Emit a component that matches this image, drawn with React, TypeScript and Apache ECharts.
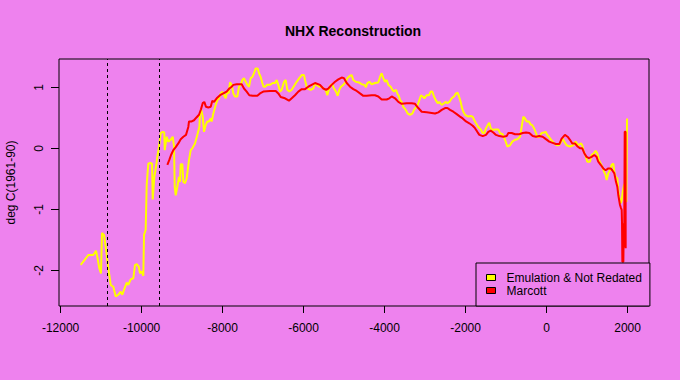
import React, { useEffect, useRef } from "react";
import * as echarts from "echarts";

const xTicks = [-12000, -10000, -8000, -6000, -4000, -2000, 0, 2000];
const yTicks = [-2, -1, 0, 1];
const dashedYears = [-10850, -9560];
const seriesNames = ["Emulation & Not Redated", "Marcott"];

const emulation: [number, number][] = [
  [-11504, -1.91], [-11316, -1.75], [-11193, -1.75], [-11126, -1.68], [-11094, -1.78], [-11044, -1.97],
  [-11003, -2.05], [-10978, -1.39], [-10928, -1.42], [-10887, -1.61], [-10837, -1.89], [-10797, -2.08],
  [-10764, -2.24], [-10698, -2.27], [-10640, -2.43], [-10575, -2.4], [-10517, -2.35], [-10476, -2.4],
  [-10435, -2.32], [-10368, -2.2], [-10328, -2.24], [-10270, -2.15], [-10204, -2.13], [-10163, -1.91],
  [-10121, -1.9], [-10072, -1.94], [-10039, -2.05], [-9998, -2.02], [-9958, -2.09], [-9941, -1.42],
  [-9900, -1.34], [-9875, -0.6], [-9835, -0.25], [-9776, -0.24], [-9743, -0.25], [-9726, -0.84],
  [-9686, -0.47], [-9644, -0.3], [-9612, -0.14], [-9570, 0.03], [-9529, 0.25], [-9479, 0.27],
  [-9440, 0.26], [-9430, -0.03], [-9381, 0.19], [-9341, 0.11], [-9282, 0.14], [-9232, 0.19],
  [-9200, 0.03], [-9183, -0.63], [-9158, -0.77], [-9118, -0.63], [-9077, -0.47], [-9052, -0.55],
  [-9035, -0.26], [-8995, -0.26], [-8970, -0.55], [-8928, -0.57], [-8887, -0.49], [-8862, -0.36],
  [-8830, -0.19], [-8788, -0.03], [-8748, 0.0], [-8682, 0.08], [-8625, 0.22], [-8575, 0.35],
  [-8558, 0.57], [-8526, 0.63], [-8492, 0.52], [-8459, 0.27], [-8418, 0.38], [-8378, 0.44],
  [-8336, 0.44], [-8294, 0.49], [-8270, 0.44], [-8229, 0.57], [-8171, 0.71], [-8131, 0.79],
  [-8089, 0.82], [-8047, 0.9], [-8008, 0.93], [-7966, 0.87], [-7924, 0.82], [-7885, 0.93],
  [-7850, 0.9], [-7818, 1.08], [-7775, 1.04], [-7735, 0.9], [-7694, 0.85], [-7637, 0.85],
  [-7595, 1.01], [-7553, 1.04], [-7514, 1.12], [-7472, 1.15], [-7430, 1.09], [-7390, 1.04],
  [-7348, 1.01], [-7307, 1.15], [-7266, 1.17], [-7225, 1.23], [-7183, 1.31], [-7134, 1.31],
  [-7102, 1.23], [-7060, 1.17], [-7020, 1.07], [-6990, 1.01], [-6953, 1.01], [-6900, 1.04],
  [-6830, 1.04], [-6763, 1.07], [-6706, 1.07], [-6665, 1.12], [-6625, 1.04], [-6583, 0.93],
  [-6541, 0.96], [-6484, 1.09], [-6443, 1.12], [-6403, 0.96], [-6353, 0.93], [-6294, 0.96],
  [-6237, 1.02], [-6171, 1.09], [-6106, 1.15], [-6047, 1.2], [-5990, 1.2], [-5966, 1.12],
  [-5924, 1.01], [-5884, 0.97], [-5825, 0.96], [-5760, 0.98], [-5719, 1.07], [-5680, 1.04],
  [-5612, 1.01], [-5554, 1.01], [-5514, 0.98], [-5455, 0.96], [-5415, 0.87], [-5373, 0.97],
  [-5332, 1.04], [-5291, 1.05], [-5250, 0.98], [-5200, 0.93], [-5159, 0.86], [-5118, 0.96],
  [-5077, 1.01], [-5020, 1.04], [-4960, 1.09], [-4921, 1.15], [-4855, 1.19], [-4813, 1.2],
  [-4773, 1.12], [-4714, 1.09], [-4632, 1.08], [-4567, 1.05], [-4501, 1.04], [-4460, 1.0],
  [-4427, 1.07], [-4378, 1.09], [-4320, 1.05], [-4238, 1.07], [-4156, 1.08], [-4114, 1.17],
  [-4073, 1.23], [-4032, 1.15], [-3991, 1.09], [-3949, 1.12], [-3908, 1.04], [-3850, 1.01],
  [-3809, 0.96], [-3768, 0.93], [-3718, 0.96], [-3686, 0.9], [-3644, 0.85], [-3620, 0.79],
  [-3578, 0.76], [-3538, 0.68], [-3479, 0.63], [-3430, 0.57], [-3373, 0.55], [-3316, 0.57],
  [-3274, 0.63], [-3225, 0.67], [-3183, 0.71], [-3143, 0.79], [-3101, 0.87], [-3060, 0.85],
  [-3020, 0.82], [-2961, 0.87], [-2904, 0.87], [-2862, 0.93], [-2822, 0.93], [-2780, 0.85],
  [-2738, 0.79], [-2689, 0.74], [-2649, 0.76], [-2590, 0.71], [-2533, 0.74], [-2484, 0.76],
  [-2451, 0.74], [-2402, 0.76], [-2343, 0.82], [-2286, 0.85], [-2237, 0.9], [-2195, 0.91],
  [-2163, 0.85], [-2121, 0.76], [-2097, 0.68], [-2056, 0.6], [-2015, 0.55], [-1933, 0.52],
  [-1875, 0.53], [-1825, 0.52], [-1785, 0.46], [-1743, 0.41], [-1686, 0.35], [-1627, 0.31],
  [-1578, 0.25], [-1538, 0.25], [-1497, 0.33], [-1455, 0.38], [-1415, 0.42], [-1380, 0.33],
  [-1340, 0.3], [-1274, 0.31], [-1192, 0.31], [-1151, 0.25], [-1085, 0.23], [-1027, 0.14],
  [-970, 0.03], [-904, 0.05], [-847, 0.11], [-781, 0.14], [-723, 0.15], [-657, 0.19],
  [-616, 0.35], [-575, 0.52], [-534, 0.49], [-492, 0.44], [-435, 0.44], [-393, 0.39],
  [-353, 0.38], [-311, 0.33], [-262, 0.25], [-221, 0.18], [-182, 0.19], [-123, 0.25],
  [-66, 0.26], [-24, 0.27], [16, 0.22], [57, 0.19], [99, 0.15], [149, 0.11],
  [206, 0.07], [247, 0.05], [304, 0.05], [354, 0.1], [395, 0.16], [436, 0.11],
  [493, 0.05], [576, 0.03], [658, 0.05], [716, 0.11], [781, 0.05], [849, 0.08],
  [880, 0.05], [922, -0.06], [971, -0.14], [1004, -0.22], [1070, -0.22], [1111, -0.11],
  [1168, -0.08], [1210, -0.04], [1251, -0.08], [1292, -0.19], [1334, -0.25], [1374, -0.3],
  [1416, -0.38], [1457, -0.44], [1482, -0.52], [1523, -0.41], [1565, -0.36], [1606, -0.27],
  [1647, -0.25], [1672, -0.38], [1706, -0.47], [1746, -0.49], [1771, -0.68], [1796, -0.82],
  [1830, -0.9], [1854, -0.85], [1879, -0.71], [1912, -0.6], [1953, -0.57], [1968, -0.88],
  [1986, 0.49],
];

const marcott: [number, number][] = [
  [-9365, -0.27], [-9316, -0.19], [-9274, -0.11], [-9217, -0.03], [-9158, 0.02], [-9094, 0.08],
  [-9035, 0.15], [-8970, 0.19], [-8904, 0.22], [-8847, 0.35], [-8830, 0.44], [-8764, 0.44],
  [-8707, 0.46], [-8640, 0.51], [-8583, 0.55], [-8534, 0.64], [-8492, 0.74], [-8452, 0.76],
  [-8410, 0.68], [-8353, 0.67], [-8294, 0.68], [-8254, 0.78], [-8212, 0.76], [-8146, 0.82],
  [-8064, 0.87], [-7983, 0.9], [-7900, 0.93], [-7835, 0.98], [-7775, 1.01], [-7735, 1.04],
  [-7652, 1.05], [-7529, 1.05], [-7472, 0.98], [-7406, 0.93], [-7341, 0.87], [-7258, 0.86],
  [-7143, 0.86], [-7077, 0.9], [-6995, 0.93], [-6830, 0.94], [-6689, 0.94], [-6625, 0.9],
  [-6566, 0.84], [-6460, 0.82], [-6361, 0.78], [-6294, 0.82], [-6213, 0.87], [-6131, 0.93],
  [-6047, 0.97], [-5966, 0.97], [-5884, 1.01], [-5802, 1.04], [-5719, 1.07], [-5596, 1.04],
  [-5514, 0.98], [-5447, 0.96], [-5390, 0.98], [-5307, 1.04], [-5225, 1.09], [-5143, 1.13],
  [-5060, 1.16], [-5003, 1.15], [-4936, 1.07], [-4855, 1.01], [-4773, 0.97], [-4689, 0.94],
  [-4608, 0.9], [-4526, 0.86], [-4443, 0.86], [-4320, 0.87], [-4238, 0.87], [-4156, 0.85],
  [-4073, 0.8], [-3949, 0.8], [-3884, 0.82], [-3825, 0.85], [-3743, 0.82], [-3661, 0.76],
  [-3578, 0.73], [-3454, 0.74], [-3331, 0.74], [-3250, 0.73], [-3168, 0.66], [-3084, 0.6],
  [-2961, 0.59], [-2838, 0.58], [-2755, 0.57], [-2673, 0.59], [-2590, 0.63], [-2508, 0.66],
  [-2450, 0.66], [-2385, 0.63], [-2303, 0.6], [-2220, 0.56], [-2138, 0.52], [-2072, 0.49],
  [-1990, 0.44], [-1909, 0.41], [-1825, 0.37], [-1768, 0.33], [-1711, 0.27], [-1661, 0.22],
  [-1578, 0.2], [-1497, 0.22], [-1440, 0.27], [-1380, 0.29], [-1316, 0.26], [-1250, 0.22],
  [-1168, 0.2], [-1069, 0.19], [-986, 0.2], [-945, 0.25], [-863, 0.25], [-781, 0.23],
  [-675, 0.23], [-591, 0.25], [-509, 0.26], [-427, 0.25], [-344, 0.2], [-262, 0.19],
  [-182, 0.2], [-98, 0.19], [-17, 0.15], [65, 0.11], [149, 0.09], [231, 0.07],
  [313, 0.07], [371, 0.16], [452, 0.22], [518, 0.19], [576, 0.14], [634, 0.08],
  [699, 0.08], [765, 0.03], [822, 0.0], [880, 0.0], [930, -0.08], [987, -0.14],
  [1045, -0.16], [1111, -0.14], [1176, -0.11], [1234, -0.14], [1275, -0.22], [1334, -0.27],
  [1399, -0.33], [1457, -0.36], [1523, -0.33], [1580, -0.33], [1621, -0.36], [1672, -0.41],
  [1713, -0.55], [1746, -0.63], [1771, -0.77], [1812, -0.93], [1837, -0.98], [1854, -1.01],
  [1862, -1.23], [1870, -1.86], [1895, -1.86], [1905, -1.23], [1915, -1.62], [1928, 0.27],
  [1950, 0.27], [1952, -1.64],
];

const FONT = "'Liberation Sans', Arial, sans-serif";

export default function App() {
  const ref = useRef<HTMLDivElement>(null);
  useEffect(() => {
    const chart = echarts.init(ref.current!, null, { renderer: "svg" });
    chart.setOption({
      animation: false,
      backgroundColor: "#EE82EE",
      textStyle: { fontFamily: FONT },
      title: {
        text: "NHX Reconstruction",
        left: 285,
        top: 24,
        padding: 0,
        textStyle: { fontSize: 14, fontWeight: "bold", color: "#000", fontFamily: FONT },
      },
      grid: {
        left: 59,
        top: 59,
        width: 590,
        height: 247,
        show: true,
        borderColor: "#000",
        borderWidth: 1,
        backgroundColor: "transparent",
        containLabel: false,
        outerBoundsMode: "none",
      },
      legend: {
        orient: "vertical",
        left: 476,
        top: 263,
        padding: [8, 8, 9, 10],
        itemGap: 0,
        itemWidth: 9,
        itemHeight: 6,
        icon: "rect",
        borderColor: "#000",
        borderWidth: 1,
        backgroundColor: "#EE82EE",
        textStyle: { fontSize: 12, color: "#000", fontFamily: FONT, lineHeight: 13, padding: [0, 0, 0, 6] },
        data: [
          { name: seriesNames[0], itemStyle: { color: "#FFFF00", borderColor: "#000", borderWidth: 1 } },
          { name: seriesNames[1], itemStyle: { color: "#FF0000", borderColor: "#000", borderWidth: 1 } },
        ],
      },
      xAxis: {
        type: "value",
        min: -12040,
        max: 2528,
        splitLine: { show: false },
        axisLine: { show: false, onZero: false },
        axisTick: { show: true, length: 7, customValues: xTicks, lineStyle: { color: "#000" } },
        axisLabel: {
          customValues: xTicks,
          margin: 16,
          color: "#000",
          fontSize: 12,
          fontFamily: FONT,
          formatter: (v: number) => String(v),
        },
      },
      yAxis: {
        type: "value",
        min: -2.585,
        max: 1.464,
        splitLine: { show: false },
        axisLine: { show: false, onZero: false },
        axisTick: { show: true, length: 8, customValues: yTicks, lineStyle: { color: "#000" } },
        axisLabel: {
          customValues: yTicks,
          rotate: 90,
          margin: 14,
          color: "#000",
          fontSize: 12,
          fontFamily: FONT,
          formatter: (v: number) => String(v),
        },
        name: "deg C(1961-90)",
        nameLocation: "middle",
        nameRotate: 90,
        nameGap: 42,
        nameTextStyle: { fontSize: 12, color: "#000", fontFamily: FONT },
      },
      series: [
        {
          name: seriesNames[0],
          type: "line",
          data: emulation,
          symbol: "none",
          itemStyle: { color: "#FFFF00" },
          lineStyle: { color: "#FFFF00", width: 2 },
          markLine: {
            silent: true,
            symbol: "none",
            label: { show: false },
            lineStyle: { color: "#000", type: [3, 3], width: 1 },
            data: dashedYears.map((x) => ({ xAxis: x })),
          },
        },
        {
          name: seriesNames[1],
          type: "line",
          data: marcott,
          symbol: "none",
          itemStyle: { color: "#FF0000" },
          lineStyle: { color: "#FF0000", width: 2 },
        },
      ],
    });
    return () => chart.dispose();
  }, []);
  return (
    <div
      ref={ref}
      style={{ position: "fixed", left: 0, top: 0, width: 680, height: 380 }}
    />
  );
}
